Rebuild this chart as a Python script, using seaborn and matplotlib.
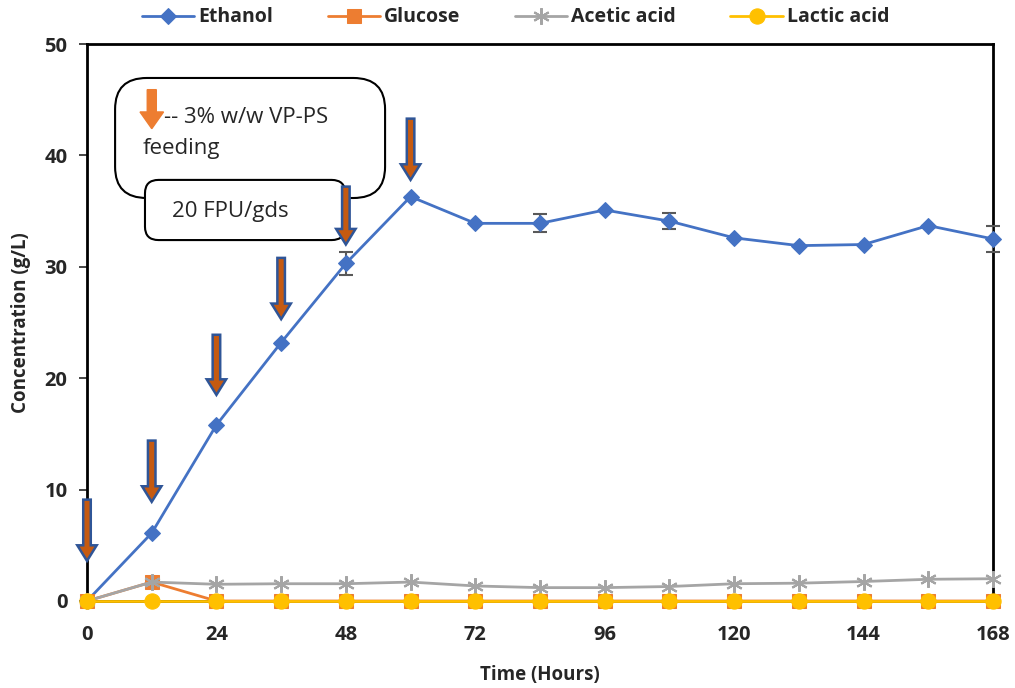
import numpy as np
import pandas as pd
import matplotlib
matplotlib.use("Agg")
import matplotlib.pyplot as plt
import seaborn as sns
from matplotlib.patches import FancyArrow, FancyBboxPatch

time_h = [0, 12, 24, 36, 48, 60, 72, 84, 96, 108, 120, 132, 144, 156, 168]
ethanol = [0, 6.1, 15.8, 23.2, 30.3, 36.3, 33.9, 33.9, 35.1, 34.1, 32.6, 31.9, 32.0, 33.7, 32.5]
ethanol_err = [0, 0, 0, 0, 1.0, 0, 0, 0.8, 0, 0.7, 0, 0, 0, 0, 1.2]
glucose = [0, 1.7, 0, 0, 0, 0, 0, 0, 0, 0, 0, 0, 0, 0, 0]
acetic = [0, 1.7, 1.5, 1.55, 1.55, 1.7, 1.35, 1.2, 1.2, 1.3, 1.55, 1.6, 1.75, 1.95, 2.0]
lactic = [0] * 15
arrow_x = [0, 12, 24, 36, 48, 60]
arrow_top = [9.1, 14.4, 23.9, 30.8, 37.2, 43.3]
arrow_tip = [3.6, 8.9, 18.5, 25.3, 32.0, 37.8]
x_ticks = [0, 24, 48, 72, 96, 120, 144, 168]
y_ticks = [0, 10, 20, 30, 40, 50]

sns.set_style("white")
plt.rcParams['font.family'] = ['Open Sans', 'DejaVu Sans']

fig = plt.figure(figsize=(10.15, 6.88), dpi=100)
ax = fig.add_axes([87/1015, 1 - 601/688, 906/1015, 557/688])

df = pd.DataFrame({"t": time_h, "Ethanol": ethanol, "Glucose": glucose,
                   "Acetic acid": acetic, "Lactic acid": lactic})

c_eth, c_glu, c_ace, c_lac = "#4472C4", "#ED7D31", "#A5A5A5", "#FFC000"

ax.errorbar(time_h, ethanol, yerr=ethanol_err, fmt='none', ecolor="#595959",
            elinewidth=1.5, capsize=5, capthick=1.5, zorder=3)
sns.lineplot(data=df, x="t", y="Ethanol", ax=ax, color=c_eth, marker="D",
             markersize=8, markeredgecolor=c_eth, linewidth=2, label="Ethanol", zorder=4)
sns.lineplot(data=df, x="t", y="Glucose", ax=ax, color=c_glu, marker="s",
             markersize=10, markeredgecolor=c_glu, linewidth=2, label="Glucose", zorder=4)
sns.lineplot(data=df, x="t", y="Acetic acid", ax=ax, color=c_ace, marker=(6, 2, 0),
             markersize=12, markeredgecolor=c_ace, markeredgewidth=1.5, linewidth=2,
             label="Acetic acid", zorder=4)
sns.lineplot(data=df, x="t", y="Lactic acid", ax=ax, color=c_lac, marker="o",
             markersize=11, markeredgecolor=c_lac, linewidth=2, label="Lactic acid", zorder=5)
for ln in ax.lines:
    ln.set_clip_on(False)

ax.set_xlim(0, 168)
ax.set_ylim(0, 50)
ax.set_xticks(x_ticks)
ax.set_yticks(y_ticks)
for s in ax.spines.values():
    s.set_visible(True)
    s.set_color("black")
    s.set_linewidth(2)
ax.tick_params(axis='y', which='both', left=True, length=6, width=1.2, direction='out', pad=8)
ax.tick_params(axis='x', bottom=False, pad=14)
for lab in ax.get_xticklabels() + ax.get_yticklabels():
    lab.set_fontweight('bold')
    lab.set_fontsize(14.5)
ax.set_xlabel("Time (Hours)", fontsize=13.5, fontweight='bold', labelpad=14)
ax.set_ylabel("Concentration (g/L)", fontsize=13.5, fontweight='bold', labelpad=10)

leg = ax.legend(loc='lower center', bbox_to_anchor=(0.473, 1.0), ncol=4, frameon=False,
                prop={'weight': 'bold', 'size': 14}, handlelength=2.7, columnspacing=2.8,
                handletextpad=0.2, borderaxespad=0.45)

# annotation boxes
big = FancyBboxPatch((0.031, 0.7235), 0.298, 0.2155, boxstyle="round,pad=0,rounding_size=0.035",
                     transform=ax.transAxes, facecolor="white", edgecolor="black",
                     linewidth=1.5, zorder=7, mutation_aspect=1.6)
ax.add_patch(big)
small = FancyBboxPatch((0.064, 0.648), 0.221, 0.108, boxstyle="round,pad=0,rounding_size=0.015",
                       transform=ax.transAxes, facecolor="white", edgecolor="black",
                       linewidth=1.5, zorder=8, mutation_aspect=1.6)
ax.add_patch(small)
icon = FancyArrow(0.0715, 0.918, 0, -0.07, width=0.01, head_width=0.026, head_length=0.03,
                  length_includes_head=True, transform=ax.transAxes, facecolor=c_glu,
                  edgecolor=c_glu, zorder=9)
ax.add_patch(icon)
ax.text(0.085, 0.868, "-- 3% w/w VP-PS", transform=ax.transAxes, fontsize=16,
        va='center', ha='left', zorder=9)
ax.text(0.061, 0.812, "feeding", transform=ax.transAxes, fontsize=16,
        va='center', ha='left', zorder=9)
ax.text(0.094, 0.70, "20 FPU/gds", transform=ax.transAxes, fontsize=16,
        va='center', ha='left', zorder=9)

# feeding arrows (drawn above the boxes)
for xa, yt, yb in zip(arrow_x, arrow_top, arrow_tip):
    ar = FancyArrow(xa, yt, 0, yb - yt, width=1.4, head_width=3.6, head_length=1.4,
                    length_includes_head=True, facecolor="#C55A11", edgecolor="#2F5597",
                    linewidth=1.8, zorder=10, clip_on=False)
    ax.add_patch(ar)

fig.savefig("out.png", dpi=100)
